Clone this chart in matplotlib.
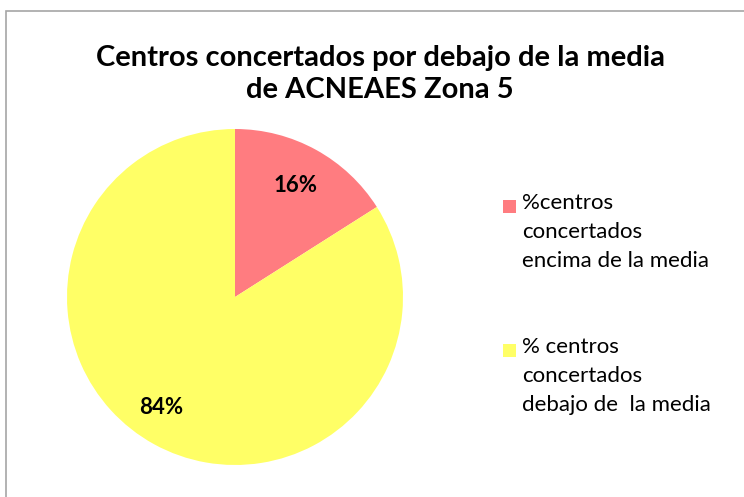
import matplotlib.pyplot as plt
from matplotlib.patches import Rectangle

# data
categories = ["%centros\nconcertados\nencima de la media",
              "% centros\nconcertados\ndebajo de  la media"]
values = [16, 84]
colors = ["#FF7C80", "#FFFF66"]
title = "Centros concertados por debajo de la media\nde ACNEAES Zona 5"

plt.rcParams["font.family"] = ["Lato", "DejaVu Sans"]

W, H = 744, 497
fig = plt.figure(figsize=(W / 100, H / 100), dpi=100)

# chart border
fig.patches.append(Rectangle((6 / W, -0.1), 2, 1 - 11 / H + 0.1, transform=fig.transFigure,
                             fill=False, edgecolor="#A6A6A6", linewidth=1.2))

# pie axes: center (235, 297), radius 168 in pixels
cx, cy, r = 235, 297, 168
ax = fig.add_axes([(cx - r) / W, 1 - (cy + r) / H, 2 * r / W, 2 * r / H])
wedges, texts = ax.pie(values, colors=colors, startangle=90, counterclock=False,
                       radius=1, wedgeprops=dict(linewidth=0))
ax.set_xlim(-1, 1)
ax.set_ylim(-1, 1)
ax.set_aspect("equal")
ax.axis("off")

# percentage labels
ax.text((296 - cx) / r, -(185 - cy) / r, f"{values[0]}%", ha="center", va="center",
        fontsize=16, fontweight="bold")
ax.text((161 - cx) / r, -(407 - cy) / r, f"{values[1]}%", ha="center", va="center",
        fontsize=16, fontweight="bold")

fig.text(380 / W, 1 - 74 / H, title, ha="center", va="center", fontsize=21,
         fontweight="bold", linespacing=1.3)

# legend
for i, (lab, col) in enumerate(zip(categories, colors)):
    y0 = [206, 350][i]
    fig.patches.append(Rectangle((503 / W, 1 - (y0 + 7) / H), 13 / W, 13 / H,
                                 transform=fig.transFigure, facecolor=col, edgecolor="none"))
    fig.text(522 / W, 1 - (y0 - 13) / H, lab, ha="left", va="top", fontsize=16,
             linespacing=1.55)

fig.savefig("out.png", dpi=100)
